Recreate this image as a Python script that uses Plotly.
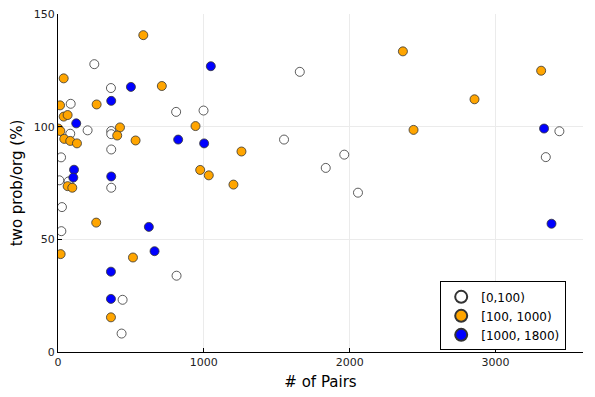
import plotly.graph_objects as go

# values
low_x = [249, 363, 87, 810, 998, 203, 365, 365, 84, 365, 21, 9, 73, 365, 27, 23,
         813, 443, 436, 1658, 1550, 1963, 1836, 2057, 3438, 3345]
low_y = [127.9, 117.3, 110.3, 106.7, 107.3, 98.5, 98.2, 96.8, 97.0, 90.0, 86.5, 76.3,
         75.8, 73.0, 64.4, 53.7, 33.9, 23.2, 8.2, 124.5, 94.4, 87.7, 81.8, 70.8, 98.1, 86.6]

mid_x = [585, 39, 712, 265, 14, 39, 66, 943, 425, 2, 16, 406, 43, 84, 130, 532, 1258,
         975, 1034, 1203, 66, 98, 262, 18, 514, 363, 2365, 2856, 2438, 3313]
mid_y = [140.8, 121.6, 118.2, 110.0, 109.6, 104.6, 105.3, 100.4, 99.8, 99.3, 98.2, 96.2,
         94.7, 93.8, 92.7, 94.0, 89.1, 80.9, 78.5, 74.4, 73.7, 73.0, 57.5, 43.5, 42.0,
         15.4, 133.6, 112.3, 98.7, 125.0]

high_x = [1048, 500, 365, 125, 824, 1002, 110, 105, 365, 623, 662, 363, 363, 3333, 3384]
high_y = [127.0, 117.8, 111.6, 101.6, 94.4, 92.7, 81.0, 77.5, 78.0, 55.6, 44.8, 35.7,
          23.6, 99.3, 57.0]

groups = [
    ("[0,100)", low_x, low_y, "white"),
    ("[100, 1000)", mid_x, mid_y, "#FFA500"),
    ("[1000, 1800)", high_x, high_y, "#0000FF"),
]

fig = go.Figure()
for name, xs, ys, col in groups:
    fig.add_trace(go.Scatter(
        x=xs, y=ys, mode="markers", name=name,
        marker=dict(size=9, color=col, line=dict(color="#333333", width=0.8)),
    ))

font = "DejaVu Sans, Liberation Sans, sans-serif"
axis_common = dict(
    showgrid=True, gridcolor="#ebebeb", gridwidth=1,
    showline=True, linecolor="black", linewidth=1,
    ticks="inside", ticklen=4, tickcolor="black",
    zeroline=False, mirror=False, automargin=False,
    ticklabeloverflow="allow",
    tickfont=dict(family=font, size=11, color="#222222"),
)
fig.update_xaxes(
    range=[0, 3600], tickvals=[0, 1000, 2000, 3000],
    title=dict(text="# of Pairs", font=dict(family=font, size=15, color="black"), standoff=8),
    **axis_common,
)
fig.update_yaxes(
    range=[0, 150.2], tickvals=[0, 50, 100, 150],
    title=dict(text="two prob/org (%)", font=dict(family=font, size=15, color="black"), standoff=8),
    **axis_common,
)

# the page body has an 8px margin, so the figure is a bit smaller than the window
fig.update_layout(
    width=587, height=389,
    margin=dict(l=50, r=12, t=6, b=45),
    plot_bgcolor="white", paper_bgcolor="white",
    font=dict(family=font, size=12, color="black"),
    legend=dict(
        x=0.728, y=0.107, xanchor="left", yanchor="middle",
        bgcolor="white", bordercolor="black", borderwidth=1,
        font=dict(family=font, size=12, color="black"),
        tracegroupgap=0, itemsizing="constant",
    ),
)

fig.write_html("out.html")
